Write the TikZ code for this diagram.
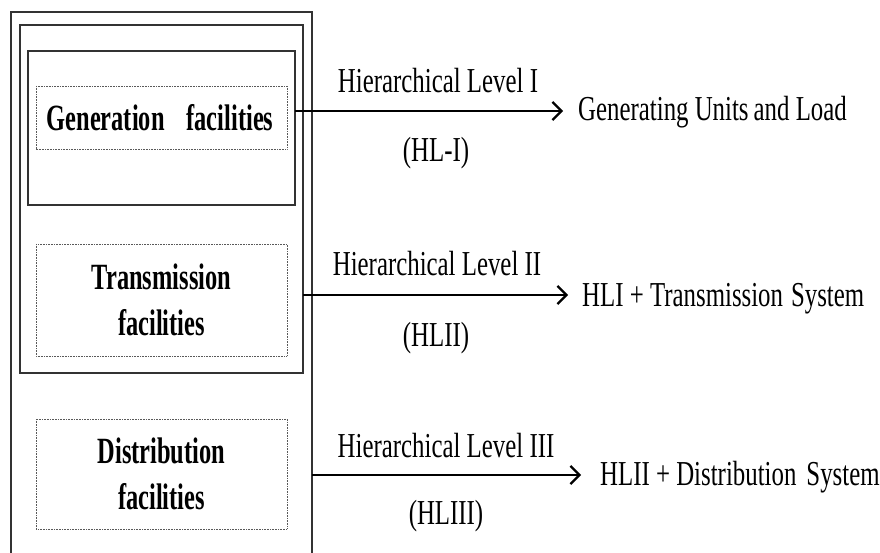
\documentclass[tikz,border=0pt]{standalone}
\usepackage{fontspec}
\usetikzlibrary{arrows.meta}
\newfontfamily\narrowserif[FakeStretch=0.71]{Liberation Serif}
\newfontfamily\narrowbold[FakeStretch=0.66]{Liberation Serif Bold}
\begin{document}
\begin{tikzpicture}[x=1pt,y=-1pt,
  frame/.style={draw=black!80,line width=1.3pt},
  dotbox/.style={draw=black!65,line width=0.9pt,dash pattern=on 0.9pt off 0.7pt},
  facility/.style={font=\narrowbold\fontsize{37}{46}\selectfont,align=center,inner sep=0pt},
  lbl/.style={font=\narrowserif\fontsize{35}{40}\selectfont,inner sep=0pt},
  arr/.style={line width=2.2pt,-{Straight Barb[length=9pt,width=18pt,line width=2.2pt]}}]
\useasboundingbox (0,0) rectangle (880,553);

% nested frames (outer frame runs past the lower edge)
\draw[frame] (11,553) -- (11,12) -- (312,12) -- (312,553);
\draw[frame] (20,25) rectangle (303,373);
\draw[frame] (28,51) rectangle (295,205);

% facility boxes
\draw[dotbox] (36,86) rectangle (287,149);
\draw[dotbox] (36,244) rectangle (287,356);
\draw[dotbox] (36,419) rectangle (287,529);
\node[facility] (gen) at (160,117.5) {Generation\hspace{22pt}facilities};
\node[facility] (tra) at (161.5,300) {Transmission\\facilities};
\node[facility] (dis) at (161.5,474) {Distribution\\facilities};

% level labels
\node[lbl,anchor=base] (l1) at (438,93) {Hierarchical Level I};
\node[lbl,anchor=base] (s1) at (436,162) {(HL-I)};
\node[lbl,anchor=base] (l2) at (437,275) {Hierarchical Level II};
\node[lbl,anchor=base] (s2) at (436,346) {(HLII)};
\node[lbl,anchor=base] (l3) at (446,457) {Hierarchical Level III};
\node[lbl,anchor=base] (s3) at (446,524) {(HLIII)};

% results
\node[lbl,anchor=base west] (r1) at (578,121) {Generating Units\hspace{5pt}and Load};
\node[lbl,anchor=base west] (r2) at (582,306) {HLI + Transmission\hspace{8pt}System};
\node[lbl,anchor=base west] (r3) at (600,485) {HLII + Distribution\hspace{10pt}System};

% arrow anchors on the frame edges
\coordinate (a1) at (295,111);
\coordinate (a2) at (303,295);
\coordinate (a3) at (312,475);
\draw[arr,shorten >=15pt] (a1) -- (a1 -| r1.west);
\draw[arr,shorten >=14pt] (a2) -- (a2 -| r2.west);
\draw[arr,shorten >=19pt] (a3) -- (a3 -| r3.west);
\end{tikzpicture}
\end{document}
